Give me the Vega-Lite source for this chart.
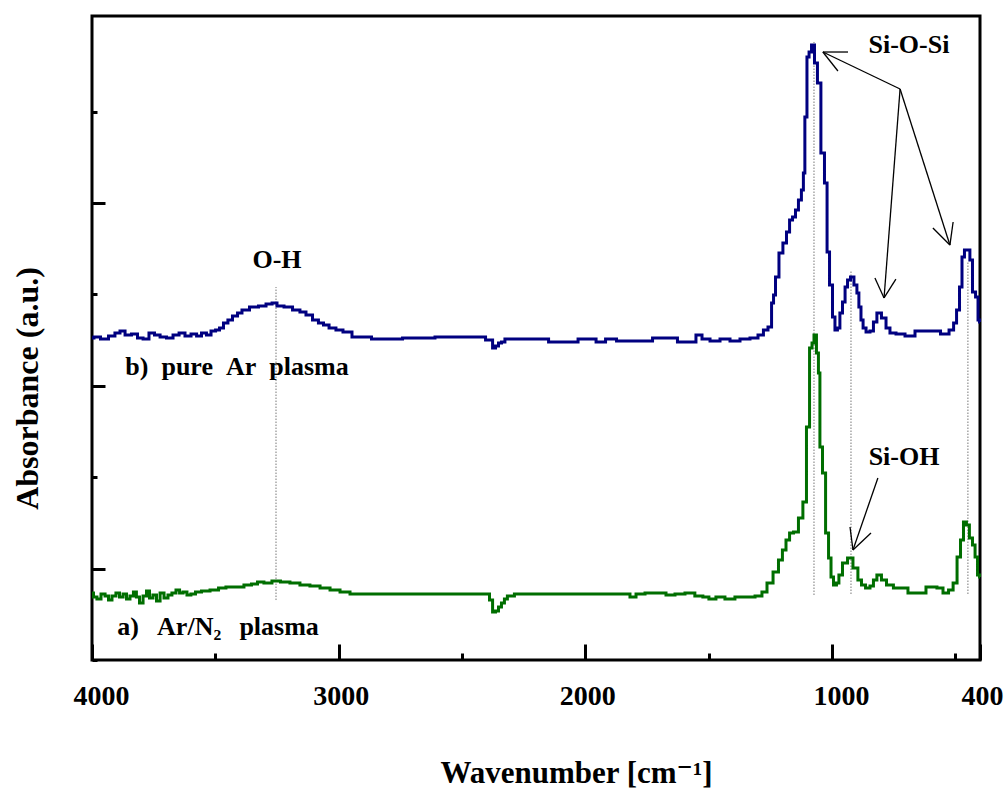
{
  "$schema": "https://vega.github.io/schema/vega-lite/v6.json",
  "width": 888,
  "height": 644,
  "autosize": {"type": "none"},
  "padding": {"left": 92, "top": 16, "right": 26, "bottom": 131},
  "background": "white",
  "config": {
    "view": {"stroke": "black", "strokeWidth": 3},
    "font": "'Liberation Serif', 'Times New Roman', 'DejaVu Serif', serif",
    "axis": {
      "grid": false,
      "domain": false,
      "tickColor": "black",
      "tickWidth": 3,
      "labelFont": "'Liberation Serif', 'Times New Roman', 'DejaVu Serif', serif",
      "labelFontWeight": "bold",
      "labelFontSize": 28,
      "labelColor": "black",
      "titleFont": "'Liberation Serif', 'Times New Roman', 'DejaVu Serif', serif",
      "titleFontWeight": "bold",
      "titleFontSize": 32,
      "titleColor": "black"
    }
  },
  "datasets": {
    "spectra": [
      {"s":"b","wn":4000,"a":3.523},{"s":"b","wn":3984,"a":3.534},{"s":"b","wn":3947,"a":3.512},{"s":"b","wn":3919,"a":3.545},{"s":"b","wn":3895,"a":3.578},{"s":"b","wn":3878,"a":3.600},{"s":"b","wn":3854,"a":3.556},{"s":"b","wn":3826,"a":3.567},{"s":"b","wn":3805,"a":3.523},{"s":"b","wn":3781,"a":3.512},{"s":"b","wn":3757,"a":3.578},{"s":"b","wn":3736,"a":3.556},{"s":"b","wn":3712,"a":3.534},{"s":"b","wn":3684,"a":3.523},{"s":"b","wn":3659,"a":3.556},{"s":"b","wn":3635,"a":3.578},{"s":"b","wn":3611,"a":3.545},{"s":"b","wn":3586,"a":3.567},{"s":"b","wn":3566,"a":3.545},{"s":"b","wn":3546,"a":3.578},{"s":"b","wn":3526,"a":3.556},{"s":"b","wn":3509,"a":3.600},{"s":"b","wn":3489,"a":3.611},{"s":"b","wn":3477,"a":3.632},{"s":"b","wn":3457,"a":3.687},{"s":"b","wn":3441,"a":3.720},{"s":"b","wn":3420,"a":3.764},{"s":"b","wn":3400,"a":3.796},{"s":"b","wn":3384,"a":3.829},{"s":"b","wn":3339,"a":3.862},{"s":"b","wn":3311,"a":3.873},{"s":"b","wn":3278,"a":3.895},{"s":"b","wn":3262,"a":3.906},{"s":"b","wn":3238,"a":3.873},{"s":"b","wn":3205,"a":3.862},{"s":"b","wn":3169,"a":3.829},{"s":"b","wn":3145,"a":3.807},{"s":"b","wn":3120,"a":3.775},{"s":"b","wn":3092,"a":3.720},{"s":"b","wn":3072,"a":3.687},{"s":"b","wn":3051,"a":3.665},{"s":"b","wn":3027,"a":3.632},{"s":"b","wn":2995,"a":3.611},{"s":"b","wn":2970,"a":3.589},{"s":"b","wn":2922,"a":3.534},{"s":"b","wn":2812,"a":3.512},{"s":"b","wn":2670,"a":3.523},{"s":"b","wn":2549,"a":3.534},{"s":"b","wn":2427,"a":3.534},{"s":"b","wn":2382,"a":3.501},{"s":"b","wn":2370,"a":3.414},{"s":"b","wn":2358,"a":3.435},{"s":"b","wn":2346,"a":3.468},{"s":"b","wn":2334,"a":3.479},{"s":"b","wn":2318,"a":3.512},{"s":"b","wn":2224,"a":3.512},{"s":"b","wn":2074,"a":3.479},{"s":"b","wn":1985,"a":3.512},{"s":"b","wn":1928,"a":3.479},{"s":"b","wn":1908,"a":3.512},{"s":"b","wn":1839,"a":3.490},{"s":"b","wn":1758,"a":3.490},{"s":"b","wn":1697,"a":3.523},{"s":"b","wn":1657,"a":3.523},{"s":"b","wn":1596,"a":3.479},{"s":"b","wn":1564,"a":3.479},{"s":"b","wn":1539,"a":3.556},{"s":"b","wn":1515,"a":3.512},{"s":"b","wn":1474,"a":3.490},{"s":"b","wn":1434,"a":3.512},{"s":"b","wn":1393,"a":3.490},{"s":"b","wn":1353,"a":3.512},{"s":"b","wn":1312,"a":3.523},{"s":"b","wn":1288,"a":3.556},{"s":"b","wn":1268,"a":3.611},{"s":"b","wn":1251,"a":3.643},{"s":"b","wn":1239,"a":3.906},{"s":"b","wn":1235,"a":3.993},{"s":"b","wn":1223,"a":4.190},{"s":"b","wn":1207,"a":4.453},{"s":"b","wn":1191,"a":4.562},{"s":"b","wn":1178,"a":4.683},{"s":"b","wn":1166,"a":4.814},{"s":"b","wn":1154,"a":4.847},{"s":"b","wn":1142,"a":4.923},{"s":"b","wn":1130,"a":5.033},{"s":"b","wn":1118,"a":5.142},{"s":"b","wn":1114,"a":5.328},{"s":"b","wn":1106,"a":5.941},{"s":"b","wn":1097,"a":6.597},{"s":"b","wn":1089,"a":6.652},{"s":"b","wn":1077,"a":6.729},{"s":"b","wn":1065,"a":6.532},{"s":"b","wn":1053,"a":6.313},{"s":"b","wn":1037,"a":5.547},{"s":"b","wn":1024,"a":5.219},{"s":"b","wn":1016,"a":4.464},{"s":"b","wn":1004,"a":4.103},{"s":"b","wn":992,"a":3.753},{"s":"b","wn":984,"a":3.611},{"s":"b","wn":972,"a":3.632},{"s":"b","wn":964,"a":3.796},{"s":"b","wn":951,"a":3.917},{"s":"b","wn":943,"a":4.081},{"s":"b","wn":931,"a":4.158},{"s":"b","wn":919,"a":4.190},{"s":"b","wn":903,"a":4.103},{"s":"b","wn":895,"a":4.015},{"s":"b","wn":887,"a":3.862},{"s":"b","wn":878,"a":3.720},{"s":"b","wn":870,"a":3.632},{"s":"b","wn":854,"a":3.589},{"s":"b","wn":838,"a":3.600},{"s":"b","wn":826,"a":3.698},{"s":"b","wn":810,"a":3.796},{"s":"b","wn":789,"a":3.742},{"s":"b","wn":773,"a":3.632},{"s":"b","wn":757,"a":3.578},{"s":"b","wn":724,"a":3.567},{"s":"b","wn":684,"a":3.545},{"s":"b","wn":643,"a":3.600},{"s":"b","wn":582,"a":3.600},{"s":"b","wn":538,"a":3.567},{"s":"b","wn":513,"a":3.611},{"s":"b","wn":501,"a":3.687},{"s":"b","wn":489,"a":3.829},{"s":"b","wn":477,"a":4.081},{"s":"b","wn":469,"a":4.409},{"s":"b","wn":457,"a":4.486},{"s":"b","wn":445,"a":4.486},{"s":"b","wn":437,"a":4.376},{"s":"b","wn":424,"a":4.026},{"s":"b","wn":412,"a":3.972},{"s":"b","wn":404,"a":3.720},{"s":"b","wn":400,"a":3.698},
      {"s":"a","wn":4000,"a":0.733},{"s":"a","wn":3988,"a":0.689},{"s":"a","wn":3972,"a":0.667},{"s":"a","wn":3955,"a":0.722},{"s":"a","wn":3939,"a":0.700},{"s":"a","wn":3927,"a":0.656},{"s":"a","wn":3911,"a":0.700},{"s":"a","wn":3895,"a":0.733},{"s":"a","wn":3882,"a":0.689},{"s":"a","wn":3866,"a":0.722},{"s":"a","wn":3854,"a":0.667},{"s":"a","wn":3838,"a":0.700},{"s":"a","wn":3826,"a":0.744},{"s":"a","wn":3814,"a":0.689},{"s":"a","wn":3801,"a":0.624},{"s":"a","wn":3785,"a":0.700},{"s":"a","wn":3773,"a":0.755},{"s":"a","wn":3761,"a":0.678},{"s":"a","wn":3745,"a":0.711},{"s":"a","wn":3732,"a":0.646},{"s":"a","wn":3716,"a":0.733},{"s":"a","wn":3700,"a":0.678},{"s":"a","wn":3684,"a":0.711},{"s":"a","wn":3668,"a":0.733},{"s":"a","wn":3651,"a":0.766},{"s":"a","wn":3639,"a":0.733},{"s":"a","wn":3623,"a":0.744},{"s":"a","wn":3607,"a":0.711},{"s":"a","wn":3591,"a":0.722},{"s":"a","wn":3570,"a":0.744},{"s":"a","wn":3542,"a":0.755},{"s":"a","wn":3501,"a":0.766},{"s":"a","wn":3473,"a":0.788},{"s":"a","wn":3441,"a":0.799},{"s":"a","wn":3400,"a":0.799},{"s":"a","wn":3368,"a":0.821},{"s":"a","wn":3339,"a":0.832},{"s":"a","wn":3319,"a":0.853},{"s":"a","wn":3287,"a":0.842},{"s":"a","wn":3254,"a":0.864},{"s":"a","wn":3218,"a":0.853},{"s":"a","wn":3177,"a":0.842},{"s":"a","wn":3137,"a":0.821},{"s":"a","wn":3096,"a":0.810},{"s":"a","wn":3055,"a":0.788},{"s":"a","wn":3015,"a":0.766},{"s":"a","wn":2974,"a":0.744},{"s":"a","wn":2934,"a":0.722},{"s":"a","wn":2751,"a":0.722},{"s":"a","wn":2549,"a":0.722},{"s":"a","wn":2395,"a":0.722},{"s":"a","wn":2382,"a":0.656},{"s":"a","wn":2370,"a":0.525},{"s":"a","wn":2358,"a":0.536},{"s":"a","wn":2346,"a":0.580},{"s":"a","wn":2334,"a":0.624},{"s":"a","wn":2322,"a":0.667},{"s":"a","wn":2310,"a":0.700},{"s":"a","wn":2265,"a":0.722},{"s":"a","wn":1941,"a":0.722},{"s":"a","wn":1827,"a":0.722},{"s":"a","wn":1811,"a":0.689},{"s":"a","wn":1778,"a":0.722},{"s":"a","wn":1738,"a":0.733},{"s":"a","wn":1689,"a":0.733},{"s":"a","wn":1657,"a":0.711},{"s":"a","wn":1616,"a":0.722},{"s":"a","wn":1576,"a":0.733},{"s":"a","wn":1536,"a":0.700},{"s":"a","wn":1511,"a":0.689},{"s":"a","wn":1487,"a":0.667},{"s":"a","wn":1454,"a":0.689},{"s":"a","wn":1414,"a":0.667},{"s":"a","wn":1373,"a":0.689},{"s":"a","wn":1332,"a":0.689},{"s":"a","wn":1292,"a":0.700},{"s":"a","wn":1276,"a":0.744},{"s":"a","wn":1251,"a":0.842},{"s":"a","wn":1227,"a":0.963},{"s":"a","wn":1207,"a":1.094},{"s":"a","wn":1195,"a":1.204},{"s":"a","wn":1178,"a":1.313},{"s":"a","wn":1166,"a":1.389},{"s":"a","wn":1146,"a":1.400},{"s":"a","wn":1126,"a":1.554},{"s":"a","wn":1110,"a":1.729},{"s":"a","wn":1097,"a":2.549},{"s":"a","wn":1085,"a":3.414},{"s":"a","wn":1077,"a":3.468},{"s":"a","wn":1069,"a":3.556},{"s":"a","wn":1057,"a":3.359},{"s":"a","wn":1053,"a":3.140},{"s":"a","wn":1045,"a":2.330},{"s":"a","wn":1032,"a":2.046},{"s":"a","wn":1020,"a":1.389},{"s":"a","wn":1008,"a":1.116},{"s":"a","wn":1000,"a":0.908},{"s":"a","wn":988,"a":0.821},{"s":"a","wn":976,"a":0.842},{"s":"a","wn":968,"a":0.930},{"s":"a","wn":947,"a":1.061},{"s":"a","wn":927,"a":1.116},{"s":"a","wn":903,"a":1.007},{"s":"a","wn":887,"a":0.875},{"s":"a","wn":874,"a":0.821},{"s":"a","wn":854,"a":0.788},{"s":"a","wn":838,"a":0.810},{"s":"a","wn":826,"a":0.875},{"s":"a","wn":810,"a":0.930},{"s":"a","wn":789,"a":0.875},{"s":"a","wn":769,"a":0.821},{"s":"a","wn":733,"a":0.788},{"s":"a","wn":651,"a":0.733},{"s":"a","wn":587,"a":0.799},{"s":"a","wn":562,"a":0.788},{"s":"a","wn":538,"a":0.733},{"s":"a","wn":517,"a":0.766},{"s":"a","wn":501,"a":0.842},{"s":"a","wn":485,"a":1.127},{"s":"a","wn":473,"a":1.313},{"s":"a","wn":461,"a":1.510},{"s":"a","wn":449,"a":1.477},{"s":"a","wn":437,"a":1.335},{"s":"a","wn":424,"a":1.258},{"s":"a","wn":416,"a":1.127},{"s":"a","wn":404,"a":0.930},{"s":"a","wn":400,"a":0.908}
    ],
    "guides": [
      {"wn":3254,"a":0.656,"a2":4.081},
      {"wn":1073,"a":0.711,"a2":6.762},
      {"wn":923,"a":0.722,"a2":4.267},
      {"wn":449,"a":0.722,"a2":4.355}
    ],
    "arrows": [
      {"seg":1,"wn":1037,"a":6.652},{"seg":1,"wn":724,"a":6.247},
      {"seg":2,"wn":1037,"a":6.652},{"seg":2,"wn":935,"a":6.652},
      {"seg":3,"wn":1037,"a":6.652},{"seg":3,"wn":976,"a":6.444},
      {"seg":4,"wn":724,"a":6.247},{"seg":4,"wn":789,"a":3.961},
      {"seg":5,"wn":789,"a":3.961},{"seg":5,"wn":826,"a":4.179},
      {"seg":6,"wn":789,"a":3.961},{"seg":6,"wn":741,"a":4.168},
      {"seg":7,"wn":724,"a":6.247},{"seg":7,"wn":522,"a":4.540},
      {"seg":8,"wn":522,"a":4.540},{"seg":8,"wn":591,"a":4.726},
      {"seg":9,"wn":522,"a":4.540},{"seg":9,"wn":509,"a":4.792},
      {"seg":10,"wn":814,"a":1.991},{"seg":10,"wn":915,"a":1.204},
      {"seg":11,"wn":915,"a":1.204},{"seg":11,"wn":927,"a":1.455},
      {"seg":12,"wn":915,"a":1.204},{"seg":12,"wn":842,"a":1.389}
    ],
    "labels": [
      {"t":"Si-O-Si","wn":688,"a":6.641},
      {"t":"O-H","wn":3250,"a":4.289},
      {"t":"b)\u2002pure\u2002Ar\u2002plasma","wn":3412,"a":3.118},
      {"t":"Si-OH","wn":708,"a":2.133},
      {"t":"a)\u2002\u2009Ar/N₂\u2002\u2009plasma","wn":3489,"a":0.274}
    ]
  },
  "encoding": {
    "x": {
      "field": "wn",
      "type": "quantitative",
      "scale": {"domain": [400, 4000], "reverse": true, "nice": false, "zero": false},
      "axis": {
        "title": "Wavenumber [cm⁻¹]",
        "titleFontSize": 31,
        "titleX": 484,
        "values": [4000, 3500, 3000, 2500, 2000, 1500, 1000, 500, 400],
        "format": "d",
        "labelExpr": "datum.value % 1000 === 0 || datum.value === 400 ? datum.label : ''",
        "labelFlush": false,
        "labelBaseline": "alphabetic",
        "labelPadding": 60,
        "labelOffset": {"condition": {"test": "datum.value === 4000 || datum.value === 1000", "value": 9}, "value": 2},
        "tickSize": {"condition": {"test": "datum.value % 1000 === 0 || datum.value === 400", "value": -16}, "value": -7},
        "titlePadding": 48
      }
    },
    "y": {
      "field": "a",
      "type": "quantitative",
      "scale": {"domain": [0, 7.046], "nice": false, "zero": false},
      "axis": {
        "title": "Absorbance (a.u.)",
        "titleY": 372,
        "values": [0, 1, 2, 3, 4, 5, 6],
        "labels": false,
        "tickSize": {"condition": {"test": "datum.value % 2 === 1", "value": -13}, "value": -5},
        "titlePadding": 46
      }
    }
  },
  "layer": [
    {
      "data": {"name": "guides"},
      "mark": {"type": "rule", "color": "#777777", "strokeWidth": 1, "strokeDash": [1.5, 1.5]},
      "encoding": {"y2": {"field": "a2"}}
    },
    {
      "data": {"name": "arrows"},
      "mark": {"type": "line", "color": "black", "strokeWidth": 1.3},
      "encoding": {"detail": {"field": "seg", "type": "nominal"}}
    },
    {
      "data": {"name": "spectra"},
      "mark": {"type": "line", "interpolate": "step", "strokeWidth": 3},
      "encoding": {
        "color": {"field": "s", "type": "nominal", "scale": {"domain": ["a", "b"], "range": ["#006e00", "#000080"]}, "legend": null}
      }
    },
    {
      "data": {"name": "labels"},
      "mark": {"type": "text", "align": "center", "baseline": "alphabetic", "font": "'Liberation Serif', 'Times New Roman', 'DejaVu Serif', serif", "fontWeight": "bold", "fontSize": 26, "color": "black"},
      "encoding": {"text": {"field": "t", "type": "nominal"}}
    }
  ]
}
